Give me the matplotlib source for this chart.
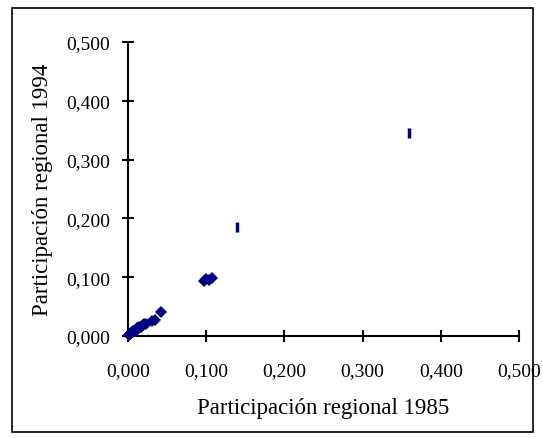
import matplotlib
matplotlib.use("Agg")
import matplotlib.pyplot as plt
from matplotlib.patches import Rectangle
from matplotlib.ticker import FuncFormatter

# participación regional por región (1985 vs 1994)
part_1985 = [0.001, 0.002, 0.003, 0.004, 0.005, 0.006, 0.007, 0.008, 0.009, 0.010,
             0.011, 0.012, 0.013, 0.014, 0.016, 0.017, 0.019, 0.021, 0.023,
             0.031, 0.034, 0.042,
             0.097, 0.100, 0.104, 0.108,
             0.139, 0.359]
part_1994 = [0.001, 0.003, 0.003, 0.005, 0.006, 0.006, 0.008, 0.009, 0.009, 0.011,
             0.011, 0.013, 0.013, 0.015, 0.016, 0.016, 0.018, 0.020, 0.021,
             0.025, 0.028, 0.041,
             0.094, 0.097, 0.095, 0.098,
             0.185, 0.345]
# las dos regiones grandes aparecen con marca de barra
bar_idx = [26, 27]

ticks = [0.0, 0.1, 0.2, 0.3, 0.4, 0.5]
navy = "#000080"

plt.rcParams['font.family'] = ['Liberation Serif', 'DejaVu Serif']

W, H = 543, 439
fig = plt.figure(figsize=(W / 100, H / 100), dpi=100)
fig.patch.set_facecolor("white")

# marco exterior
fig.add_artist(Rectangle((12 / W, 1 - 433 / H), (533 - 12) / W, (433 - 9) / H,
                         transform=fig.transFigure, fill=False,
                         edgecolor="black", linewidth=1.2))

ax = fig.add_axes([128 / W, 1 - 337 / H, (519 - 128) / W, (337 - 43) / H])

dx = [v for i, v in enumerate(part_1985) if i not in bar_idx]
dy = [v for i, v in enumerate(part_1994) if i not in bar_idx]
bx = [part_1985[i] for i in bar_idx]
by = [part_1994[i] for i in bar_idx]

ax.plot(dx, dy, linestyle="none", marker="D", markersize=6.5,
        color=navy, markeredgewidth=0, clip_on=False, zorder=3)
ax.plot(bx, by, linestyle="none", marker="|", markersize=7.5,
        markeredgewidth=2.5, color=navy, clip_on=False, zorder=3)

ax.set_xlim(0, 0.5)
ax.set_ylim(0, 0.5)
ax.set_xticks(ticks)
ax.set_yticks(ticks)
fmt = FuncFormatter(lambda v, p: f"{v:.3f}".replace(".", ","))
ax.xaxis.set_major_formatter(fmt)
ax.yaxis.set_major_formatter(fmt)

for s in ["top", "right"]:
    ax.spines[s].set_visible(False)
for s in ["left", "bottom"]:
    ax.spines[s].set_linewidth(1.5)

ax.tick_params(direction="inout", length=8, width=1.5, labelsize=14)
ax.tick_params(axis="x", pad=15)
ax.tick_params(axis="y", pad=9)

ax.set_xlabel("Participación regional 1985", fontsize=16.5, labelpad=13)
ax.set_ylabel("Participación regional 1994", fontsize=16.5, labelpad=9)

fig.savefig("out.png", dpi=100, facecolor="white")
